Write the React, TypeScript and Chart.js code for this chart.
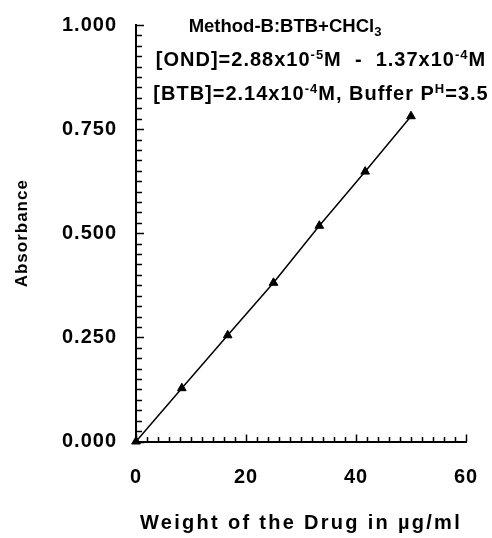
import { useEffect, useRef } from 'react';
import { Chart, registerables } from 'chart.js';

Chart.register(...registerables);

// ---- data ----
const drugWeight = [0, 8.33, 16.67, 25, 33.33, 41.67, 50];
const absorbance = [0, 0.128, 0.255, 0.381, 0.518, 0.648, 0.781];
const xTickLabels = ['0', '20', '40', '60'];
const yTickLabels = ['0.000', '0.250', '0.500', '0.750', '1.000'];
const xMajorStep = 20;
const yMajorStep = 0.25;
const xMinorStep = 2;
const yMinorStep = 0.025;
const xTitle = 'Weight of the Drug in µg/ml';
const yTitle = 'Absorbance';

type Seg = { t: string; sup?: boolean; sub?: boolean };
const titleLine1: Seg[] = [{ t: 'Method-B:BTB+CHCl' }, { t: '3', sub: true }];
const titleLine2: Seg[] = [
  { t: '[OND]=2.88x10' }, { t: '-5', sup: true }, { t: 'M  -  1.37x10' }, { t: '-4', sup: true }, { t: 'M' },
];
const titleLine3: Seg[] = [
  { t: '[BTB]=2.14x10' }, { t: '-4', sup: true }, { t: 'M, Buffer P' }, { t: 'H', sup: true }, { t: '=3.5' },
];
const titleLines = [titleLine1, titleLine2, titleLine3];
const titleCenters = [285, 321, 321];
const titleBaselines = [32, 66, 100];
const titleSizes = [18.5, 20, 20];
const titleSpacing = ['0px', '1px', '1px'];

const FONT = '"Liberation Sans", Arial, Helvetica, sans-serif';

const spacingPlugin = {
  id: 'spacing',
  beforeUpdate(chart: any) {
    chart.ctx.letterSpacing = '1px';
  },
  beforeDraw(chart: any) {
    chart.ctx.letterSpacing = '1px';
  },
};

const minorTicksPlugin = {
  id: 'minorTicks',
  afterDatasetsDraw(chart: any) {
    const { ctx, chartArea, scales } = chart;
    const xs = scales.x;
    const ys = scales.y;
    ctx.save();
    ctx.strokeStyle = '#000';
    ctx.lineWidth = 1.5;
    ctx.beginPath();
    const nx = Math.round((xs.max - xs.min) / xMinorStep);
    for (let i = 0; i <= nx; i++) {
      const v = xs.min + i * xMinorStep;
      const px = Math.round(xs.getPixelForValue(v)) + 0.5;
      const major = Math.abs(v / xMajorStep - Math.round(v / xMajorStep)) < 1e-6;
      const len = major ? 7 : 4.5;
      ctx.moveTo(px, chartArea.bottom);
      ctx.lineTo(px, chartArea.bottom - len);
    }
    const ny = Math.round((ys.max - ys.min) / yMinorStep);
    for (let i = 0; i <= ny; i++) {
      const v = ys.min + i * yMinorStep;
      const py = Math.round(ys.getPixelForValue(v)) + 0.5;
      const major = Math.abs(v / yMajorStep - Math.round(v / yMajorStep)) < 1e-6;
      const len = major ? 8 : 6;
      ctx.moveTo(chartArea.left, py);
      ctx.lineTo(chartArea.left + len, py);
    }
    ctx.stroke();
    ctx.restore();
  },
};

const titlePlugin = {
  id: 'richTitle',
  afterDraw(chart: any) {
    const { ctx, chartArea } = chart;
    ctx.save();
    ctx.fillStyle = '#000';
    ctx.textBaseline = 'alphabetic';
    ctx.textAlign = 'left';
    titleLines.forEach((line, li) => {
      ctx.letterSpacing = titleSpacing[li];
      const big = `bold ${titleSizes[li]}px ${FONT}`;
      const small = `bold 13px ${FONT}`;
      let w = 0;
      line.forEach((s) => {
        ctx.font = s.sup || s.sub ? small : big;
        w += ctx.measureText(s.t).width;
      });
      let x = titleCenters[li] - w / 2;
      const base = titleBaselines[li];
      line.forEach((s) => {
        ctx.font = s.sup || s.sub ? small : big;
        const y = s.sup ? base - 7 : s.sub ? base + 4 : base;
        ctx.fillText(s.t, x, y);
        x += ctx.measureText(s.t).width;
      });
    });
    // x-axis title
    ctx.letterSpacing = '2.3px';
    ctx.font = `bold 20px ${FONT}`;
    ctx.textAlign = 'center';
    ctx.textBaseline = 'middle';
    ctx.fillText(xTitle, (chartArea.left + chartArea.right) / 2, 523);
    ctx.restore();
  },
};

export default function App() {
  const ref = useRef<HTMLCanvasElement>(null);
  useEffect(() => {
    if (!ref.current) return;
    const chart = new Chart(ref.current, {
      type: 'line',
      data: {
        datasets: [
          {
            data: drugWeight.map((x, i) => ({ x, y: absorbance[i] })),
            borderColor: '#000',
            backgroundColor: '#000',
            borderWidth: 1.5,
            pointStyle: 'triangle',
            pointRadius: 5,
            pointBackgroundColor: '#000',
            pointBorderColor: '#000',
            pointBorderWidth: 1,
            tension: 0,
            clip: false as any,
          },
        ],
      },
      options: {
        animation: false,
        responsive: false,
        events: [],
        layout: { padding: { top: 25, right: 26, left: 0, bottom: 0 } },
        plugins: { legend: { display: false }, tooltip: { enabled: false }, title: { display: false } },
        scales: {
          x: {
            type: 'linear',
            min: 0,
            max: 60,
            grid: { display: false, drawTicks: false },
            border: { display: true, color: '#000', width: 2 },
            ticks: {
              stepSize: xMajorStep,
              padding: 24,
              color: '#000',
              font: { family: FONT, size: 20, weight: 'bold' },
              callback: (v: any) => xTickLabels[Math.round(Number(v) / xMajorStep)] ?? '',
              maxRotation: 0,
            },
            title: { display: false },
            afterFit: (s: any) => {
              s.height = 96.5;
              s.paddingLeft = 0;
              s.paddingRight = 0;
            },
          },
          y: {
            type: 'linear',
            min: 0,
            max: 1,
            grid: { display: false, drawTicks: false },
            border: { display: true, color: '#000', width: 2 },
            ticks: {
              stepSize: yMajorStep,
              padding: 19,
              color: '#000',
              font: { family: FONT, size: 20, weight: 'bold' },
              callback: (v: any) => yTickLabels[Math.round(Number(v) / yMajorStep)] ?? '',
            },
            title: {
              display: true,
              text: yTitle,
              color: '#000',
              font: { family: FONT, size: 17, weight: 'bold' },
              padding: { top: 12, bottom: 0 },
            },
            afterFit: (s: any) => {
              s.width = 136;
              s.paddingTop = 0;
              s.paddingBottom = 0;
            },
          },
        },
      },
      plugins: [spacingPlugin, minorTicksPlugin, titlePlugin],
    });
    return () => chart.destroy();
  }, []);
  return (
    <div style={{ position: 'fixed', left: 0, top: 0, width: 492, height: 538, background: '#fff' }}>
      <canvas ref={ref} width={492} height={538} style={{ display: 'block' }} />
    </div>
  );
}
